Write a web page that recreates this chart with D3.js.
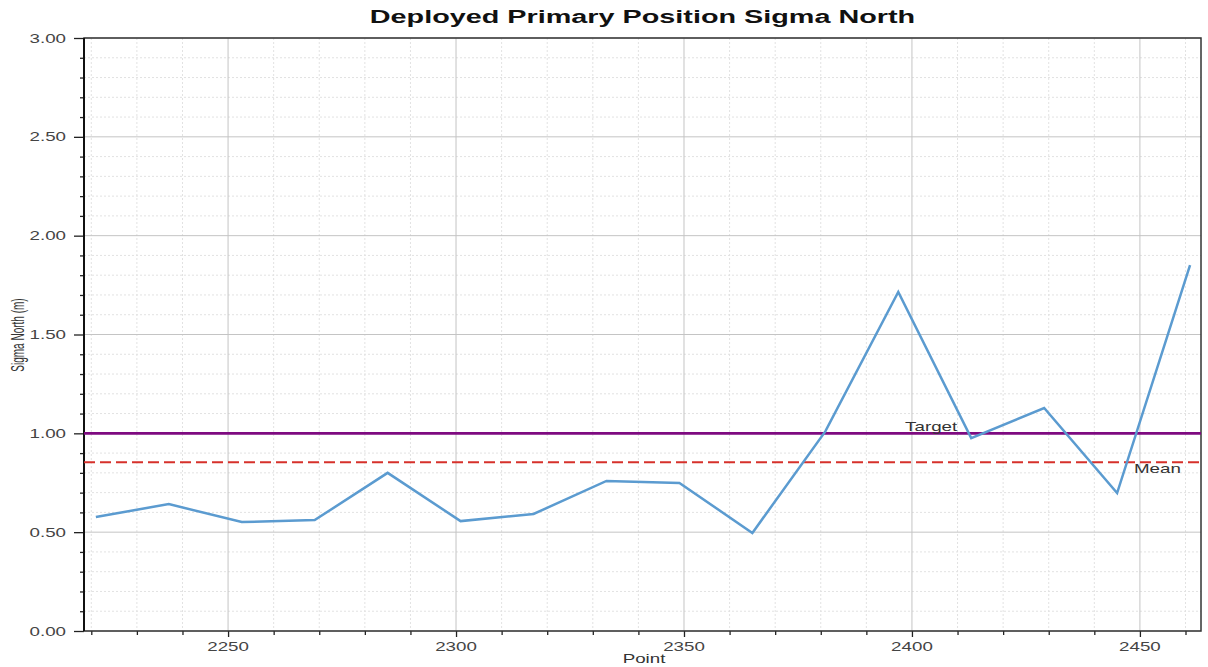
<!DOCTYPE html>
<html>
<head>
  <meta http-equiv="Content-Type" content="text/html; charset=utf-8"/>
  <title>Deployed Primary Position Sigma North</title>
  <script src="https://d3js.org/d3.v7.min.js"></script>
  <style>
    body { margin: 0; background: #fff; }
    text { font-family: "Liberation Sans", Arial, sans-serif; }
  </style>
</head>
<body>
<svg></svg>
<script type="text/javascript">

// data
const points = [2221, 2237, 2253, 2269, 2285, 2301, 2317, 2333, 2349, 2365, 2381, 2397, 2413, 2429, 2445, 2461];
const sigmaNorth = [0.577, 0.642, 0.551, 0.561, 0.800, 0.556, 0.592, 0.759, 0.749, 0.496, 1.010, 1.715, 0.976, 1.128, 0.698, 1.851];
const target = 1.0;
const xTicks = [2250, 2300, 2350, 2400, 2450];
const yTicks = [0, 0.5, 1.0, 1.5, 2.0, 2.5, 3.0];

const mean = d3.mean(sigmaNorth);

const width = 1208, height = 667;
const margin = {top: 38, right: 7, bottom: 36, left: 84};
// text in the original is stretched sideways
const sx = 1.5;

const svg = d3.select("svg")
    .attr("width", width)
    .attr("height", height);

const x = d3.scaleLinear()
    .domain([2218.4, 2463.4])
    .range([margin.left, width - margin.right]);

const y = d3.scaleLinear()
    .domain([0, 3])
    .range([height - margin.bottom, margin.top]);

const minorX = d3.range(2220, 2464, 10).filter(v => v % 50 !== 0);
const minorY = d3.range(0, 3.001, 0.1).map(v => +v.toFixed(1)).filter(v => Math.round(v * 10) % 5 !== 0);

// grid
const grid = svg.append("g");
grid.selectAll(".minor-x")
  .data(minorX)
  .join("line")
    .attr("x1", d => x(d)).attr("x2", d => x(d))
    .attr("y1", margin.top).attr("y2", height - margin.bottom)
    .style("stroke", "#e2e2e2")
    .style("stroke-dasharray", "2,2");
grid.selectAll(".minor-y")
  .data(minorY)
  .join("line")
    .attr("x1", margin.left).attr("x2", width - margin.right)
    .attr("y1", d => y(d)).attr("y2", d => y(d))
    .style("stroke", "#e2e2e2")
    .style("stroke-dasharray", "2,2");
grid.selectAll(".major-x")
  .data(xTicks)
  .join("line")
    .attr("x1", d => x(d)).attr("x2", d => x(d))
    .attr("y1", margin.top).attr("y2", height - margin.bottom)
    .style("stroke", "#c4c4c4");
grid.selectAll(".major-y")
  .data(yTicks)
  .join("line")
    .attr("x1", margin.left).attr("x2", width - margin.right)
    .attr("y1", d => y(d)).attr("y2", d => y(d))
    .style("stroke", "#c4c4c4");

// axes
const xAxis = svg.append("g")
    .attr("transform", `translate(0,${height - margin.bottom})`)
    .call(d3.axisBottom(x).tickValues(xTicks).tickSize(6).tickFormat(""));
xAxis.append("g")
    .call(d3.axisBottom(x).tickValues(minorX).tickSize(4).tickFormat(""));

const yAxis = svg.append("g")
    .attr("transform", `translate(${margin.left},0)`)
    .call(d3.axisLeft(y).tickValues(yTicks).tickSize(10).tickFormat(""));
yAxis.append("g")
    .call(d3.axisLeft(y).tickValues(minorY).tickSize(4).tickFormat(""));

svg.selectAll(".domain").remove();
svg.selectAll(".tick line").style("stroke", "#222").style("stroke-width", 1.3);

svg.append("g").selectAll("text")
  .data(xTicks)
  .join("text")
    .attr("transform", d => `translate(${x(d)},${height - 16}) scale(${sx},1)`)
    .attr("text-anchor", "middle")
    .style("font-size", "12.5px")
    .style("fill", "#444")
    .text(d => d);

svg.append("g").selectAll("text")
  .data(yTicks)
  .join("text")
    .attr("transform", d => `translate(${margin.left - 18},${y(d) + 4.5}) scale(${sx},1)`)
    .attr("text-anchor", "end")
    .style("font-size", "12.5px")
    .style("fill", "#444")
    .text(d => d.toFixed(2));

// frame
svg.append("rect")
    .attr("x", margin.left).attr("y", margin.top)
    .attr("width", width - margin.left - margin.right)
    .attr("height", height - margin.top - margin.bottom)
    .style("fill", "none")
    .style("stroke", "#333")
    .style("stroke-width", 1.5);
svg.append("line")
    .attr("x1", margin.left).attr("x2", margin.left)
    .attr("y1", margin.top).attr("y2", height - margin.bottom)
    .style("stroke", "#111")
    .style("stroke-width", 2);

// reference lines
svg.append("line")
    .attr("x1", margin.left).attr("x2", width - margin.right)
    .attr("y1", y(mean)).attr("y2", y(mean))
    .style("stroke", "#d6312b")
    .style("stroke-width", 2)
    .style("stroke-dasharray", "11,5");
svg.append("line")
    .attr("x1", margin.left).attr("x2", width - margin.right)
    .attr("y1", y(target)).attr("y2", y(target))
    .style("stroke", "#7e0a80")
    .style("stroke-width", 2.8);

// series
const line = d3.line()
    .x((d, i) => x(points[i]))
    .y(d => y(d));

svg.append("path")
    .datum(sigmaNorth)
    .attr("d", line)
    .style("fill", "none")
    .style("stroke", "#5b9bd0")
    .style("stroke-width", 2.5)
    .style("stroke-linejoin", "miter");

// labels
svg.append("text")
    .attr("transform", `translate(${x(2398.5)},${y(target) - 2}) scale(${sx},1)`)
    .style("font-size", "12.5px")
    .style("fill", "#333")
    .text("Target");
svg.append("text")
    .attr("transform", `translate(${x(2448.7)},${y(mean) + 11}) scale(${sx},1)`)
    .style("font-size", "12.5px")
    .style("fill", "#333")
    .text("Mean");

svg.append("text")
    .attr("transform", `translate(${(margin.left + width - margin.right) / 2},23) scale(1.6,1)`)
    .attr("text-anchor", "middle")
    .style("font-size", "18px")
    .style("font-weight", "bold")
    .style("fill", "#111")
    .text("Deployed Primary Position Sigma North");

svg.append("text")
    .attr("transform", `translate(644,663) scale(${sx},1)`)
    .attr("text-anchor", "middle")
    .style("font-size", "12.5px")
    .style("fill", "#333")
    .text("Point");

svg.append("text")
    .attr("transform", `translate(24,335) scale(1.75,1) rotate(-90)`)
    .attr("text-anchor", "middle")
    .style("font-size", "10px")
    .style("fill", "#333")
    .text("Sigma North (m)");

</script>
</body>
</html>
